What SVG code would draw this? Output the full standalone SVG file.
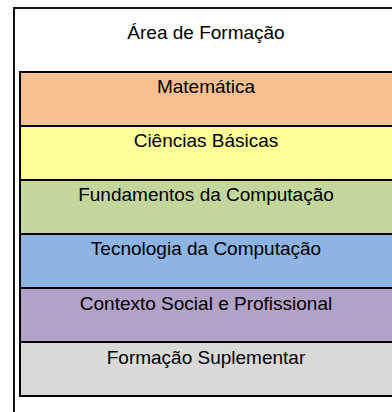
<svg xmlns="http://www.w3.org/2000/svg" width="392" height="412" viewBox="0 0 392 412">
<style>
.band{stroke:#000;stroke-width:2}
.t{font-family:"Liberation Sans",Arial,sans-serif;font-size:19px;fill:#000;text-anchor:middle}
</style>
<rect width="392" height="412" fill="#fff"/>
<g id="outer">
<path d="M14,412 V8 H400" fill="none" stroke="#111" stroke-width="2"/>
<text class="t" x="206" y="39">Área de Formação</text>
</g>
<g id="matematica">
<rect class="band" x="20" y="72" width="380" height="54" fill="#F8BF91"/>
<text class="t" x="206" y="93">Matemática</text>
</g>
<g id="ciencias">
<rect class="band" x="20" y="126" width="380" height="54" fill="#FFFF99"/>
<text class="t" x="206" y="147">Ciências Básicas</text>
</g>
<g id="fundamentos">
<rect class="band" x="20" y="180" width="380" height="54" fill="#C3D69B"/>
<text class="t" x="206" y="201">Fundamentos da Computação</text>
</g>
<g id="tecnologia">
<rect class="band" x="20" y="234" width="380" height="54" fill="#8EB4E3"/>
<text class="t" x="206" y="255">Tecnologia da Computação</text>
</g>
<g id="contexto">
<rect class="band" x="20" y="288" width="380" height="54" fill="#B2A2C7"/>
<text class="t" x="206" y="310">Contexto Social e Profissional</text>
</g>
<g id="suplementar">
<rect class="band" x="20" y="342" width="380" height="54" fill="#D9D9D9"/>
<text class="t" x="206" y="364">Formação Suplementar</text>
</g>
<g id="connectors"/>
</svg>
